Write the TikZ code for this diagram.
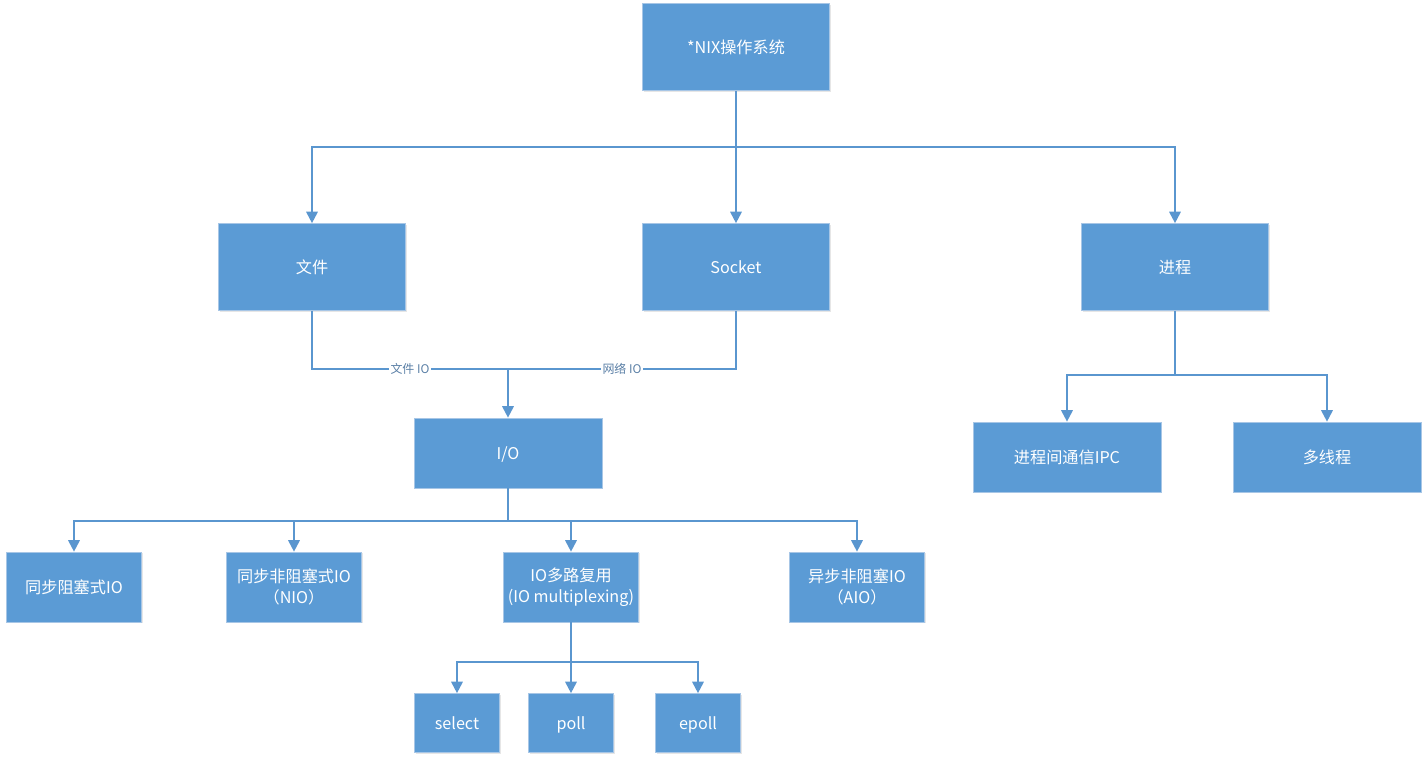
\documentclass[tikz,border=0pt]{standalone}
\usepackage{fontspec}
\setmainfont{Noto Sans CJK SC}
\usepackage{tikz}
\usetikzlibrary{shadows,arrows.meta}
\definecolor{boxblue}{HTML}{5B9BD5}
\definecolor{boxedge}{HTML}{A7C6E6}
\definecolor{linkblue}{HTML}{5A96CF}
\definecolor{labelgray}{HTML}{5A7FA6}

\begin{document}
\begin{tikzpicture}[x=0.02cm, y=-0.02cm,
	box/.style={draw=boxedge, fill=boxblue, text=white, inner sep=0pt, align=center,
		font=\fontsize{9.2}{12}\selectfont,
		drop shadow={shadow xshift=0.8pt, shadow yshift=-0.8pt, opacity=0.2}},
	oneline/.style={text height=1.75ex, text depth=0.45ex},
	bigbox/.style={box, oneline, minimum width=3.74cm, minimum height=1.74cm},
	midbox/.style={box, oneline, minimum width=3.76cm, minimum height=1.4cm},
	smallbox/.style={box, minimum width=2.7cm, minimum height=1.4cm},
	tinybox/.style={box, oneline, minimum width=1.7cm, minimum height=1.18cm},
	link/.style={line width=1.1pt, linkblue},
	arrow/.style={link, ->, >={Triangle[length=6.5pt, width=6.5pt]}},
	linklabel/.style={fill=white, inner sep=1pt, text=labelgray, font=\fontsize{6.8}{8}\selectfont}]
	\useasboundingbox (0,0) rectangle (1428,762);

	% top level
	\node[bigbox] (nix) at (736,47) {*NIX操作系统};
	\node[bigbox] (file) at (312,267) {文件};
	\node[bigbox] (socket) at (736,267) {Socket};
	\node[bigbox] (proc) at (1175,267) {进程};

	\coordinate (bus1) at (736,147);
	\draw [link] (nix) -- (bus1);
	\draw [arrow] (bus1) -| (file);
	\draw [arrow] (bus1) -- (socket);
	\draw [arrow] (bus1) -| (proc);

	% I/O
	\node[midbox] (io) at (508,453) {I/O};
	\coordinate (join1) at (508,369);
	\draw [link] (file) |- node[linklabel, pos=0.75] {文件 IO} (join1);
	\draw [link] (socket) |- node[linklabel, pos=0.75] {网络 IO} (join1);
	\draw [arrow] (join1) -- (io);

	% process
	\node[midbox] (ipc) at (1067,457) {进程间通信IPC};
	\node[midbox] (thread) at (1327,457) {多线程};
	\coordinate (bus3) at (1175,375);
	\draw [link] (proc) -- (bus3);
	\draw [arrow] (bus3) -| (ipc);
	\draw [arrow] (bus3) -| (thread);

	% IO models
	\node[smallbox, oneline] (bio) at (74,587) {同步阻塞式IO};
	\node[smallbox] (nio) at (294,587) {同步非阻塞式IO\\（NIO）};
	\node[smallbox] (mux) at (571,587) {IO多路复用\\(IO multiplexing)};
	\node[smallbox] (aio) at (857,587) {异步非阻塞IO\\（AIO）};
	\coordinate (bus2) at (508,521);
	\draw [link] (io) -- (bus2);
	\draw [arrow] (bus2) -| (bio);
	\draw [arrow] (bus2) -| (nio);
	\draw [arrow] (bus2) -| (mux);
	\draw [arrow] (bus2) -| (aio);

	% multiplexing calls
	\node[tinybox] (select) at (457,723) {select};
	\node[tinybox] (poll) at (571,723) {poll};
	\node[tinybox] (epoll) at (698,723) {epoll};
	\coordinate (bus4) at (571,662);
	\draw [link] (mux) -- (bus4);
	\draw [arrow] (bus4) -| (select);
	\draw [arrow] (bus4) -- (poll);
	\draw [arrow] (bus4) -| (epoll);
\end{tikzpicture}
\end{document}
